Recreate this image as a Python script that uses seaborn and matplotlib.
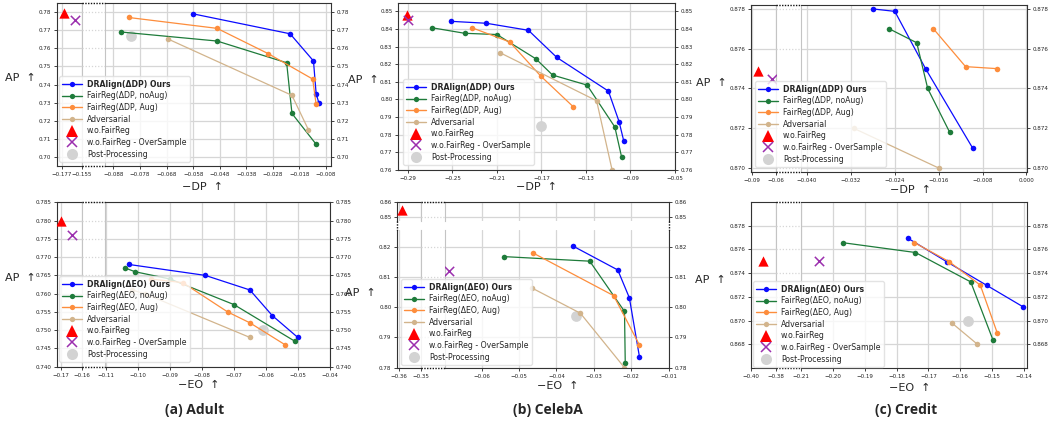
import numpy as np
import matplotlib
matplotlib.use("Agg")
import matplotlib.pyplot as plt
import seaborn as sns
from matplotlib.lines import Line2D
from matplotlib import ticker

# ---------------- data ----------------
# (a) Adult, -DP
adult_dp_ours_x = [-0.058, -0.0215, -0.0127, -0.0117, -0.0107]
adult_dp_ours_y = [0.779, 0.768, 0.753, 0.735, 0.730]
adult_dp_noaug_x = [-0.0853, -0.049, -0.0228, -0.0208, -0.0117]
adult_dp_noaug_y = [0.769, 0.764, 0.752, 0.724, 0.707]
adult_dp_aug_x = [-0.0823, -0.049, -0.0297, -0.013, -0.0117]
adult_dp_aug_y = [0.777, 0.771, 0.757, 0.743, 0.729]
adult_dp_adv_x = [-0.0673, -0.0208, -0.0146]
adult_dp_adv_y = [0.765, 0.734, 0.715]
adult_dp_wo = (-0.1744, 0.7797)
adult_dp_over = (-0.1623, 0.7758)
adult_dp_post = (-0.0813, 0.7668)

# (a) Adult, -EO
adult_eo_ours_x = [-0.103, -0.079, -0.065, -0.058, -0.050]
adult_eo_ours_y = [0.768, 0.765, 0.761, 0.754, 0.748]
adult_eo_noaug_x = [-0.104, -0.101, -0.090, -0.070, -0.051]
adult_eo_noaug_y = [0.767, 0.766, 0.764, 0.757, 0.747]
adult_eo_aug_x = [-0.096, -0.086, -0.072, -0.065, -0.054]
adult_eo_aug_y = [0.764, 0.763, 0.755, 0.752, 0.746]
adult_eo_adv_x = [-0.102, -0.098, -0.065]
adult_eo_adv_y = [0.761, 0.760, 0.748]
adult_eo_wo = (-0.170, 0.780)
adult_eo_over = (-0.165, 0.776)
adult_eo_post = (-0.061, 0.750)

# (b) CelebA, -DP
celeba_dp_ours_x = [-0.2515, -0.2196, -0.1817, -0.1562, -0.1098, -0.1002, -0.096]
celeba_dp_ours_y = [0.8443, 0.8432, 0.8392, 0.8238, 0.8047, 0.7874, 0.7764]
celeba_dp_noaug_x = [-0.268, -0.239, -0.210, -0.175, -0.160, -0.129, -0.104, -0.098]
celeba_dp_noaug_y = [0.8406, 0.8375, 0.8368, 0.823, 0.8138, 0.8081, 0.7843, 0.7675]
celeba_dp_aug_x = [-0.2323, -0.1986, -0.1706, -0.1414]
celeba_dp_aug_y = [0.8406, 0.8326, 0.8132, 0.7958]
celeba_dp_adv_x = [-0.207, -0.1204, -0.1065]
celeba_dp_adv_y = [0.8264, 0.7992, 0.760]
celeba_dp_wo = (-0.291, 0.8477)
celeba_dp_over = (-0.2897, 0.8449)
celeba_dp_post = (-0.170, 0.785)

# (b) CelebA, -EO
celeba_eo_ours_x = [-0.0356, -0.0236, -0.0205, -0.0178]
celeba_eo_ours_y = [0.8202, 0.8123, 0.8031, 0.7836]
celeba_eo_noaug_x = [-0.0539, -0.0311, -0.0218, -0.0216]
celeba_eo_noaug_y = [0.8167, 0.8152, 0.7986, 0.7816]
celeba_eo_aug_x = [-0.0464, -0.0247, -0.0178]
celeba_eo_aug_y = [0.818, 0.8038, 0.7875]
celeba_eo_adv_x = [-0.0465, -0.0336, -0.0218]
celeba_eo_adv_y = [0.8063, 0.798, 0.780]
celeba_eo_wo = (-0.3585, 0.8544)
celeba_eo_over = (-0.0686, 0.812)
celeba_eo_post = (-0.0349, 0.797)

# (c) Credit, -DP
credit_dp_ours_x = [-0.0279, -0.0240, -0.0184, -0.0098]
credit_dp_ours_y = [0.8780, 0.87788, 0.8750, 0.8710]
credit_dp_noaug_x = [-0.025, -0.020, -0.018, -0.014]
credit_dp_noaug_y = [0.8770, 0.8763, 0.8740, 0.8718]
credit_dp_aug_x = [-0.01695, -0.0111, -0.0054]
credit_dp_aug_y = [0.8770, 0.8751, 0.8750]
credit_dp_adv_x = [-0.0315, -0.016]
credit_dp_adv_y = [0.8720, 0.8700]
credit_dp_wo = (-0.0822, 0.8749)
credit_dp_over = (-0.0648, 0.8745)
credit_dp_post = (-0.0401, 0.8720)

# (c) Credit, -EO
credit_eo_ours_x = [-0.1765, -0.1643, -0.1516, -0.1403]
credit_eo_ours_y = [0.87695, 0.87497, 0.87296, 0.87117]
credit_eo_noaug_x = [-0.197, -0.1741, -0.1567, -0.1497]
credit_eo_noaug_y = [0.87657, 0.87574, 0.87326, 0.86836]
credit_eo_aug_x = [-0.1744, -0.1635, -0.1537, -0.1484]
credit_eo_aug_y = [0.87657, 0.87497, 0.87299, 0.86899]
credit_eo_adv_x = [-0.1626, -0.1546]
credit_eo_adv_y = [0.86979, 0.868]
credit_eo_wo = (-0.3901, 0.875)
credit_eo_over = (-0.2045, 0.875)
credit_eo_post = (-0.1575, 0.870)

dp_labels = ["DRAlign(ΔDP) Ours", "FairReg(ΔDP, noAug)", "FairReg(ΔDP, Aug)", "Adversarial",
             "w.o.FairReg", "w.o.FairReg - OverSample", "Post-Processing"]
eo_labels = ["DRAlign(ΔEO) Ours", "FairReg(ΔEO, noAug)", "FairReg(ΔEO, Aug)", "Adversarial",
             "w.o.FairReg", "w.o.FairReg - OverSample", "Post-Processing"]
titles = ["(a) Adult", "(b) CelebA", "(c) Credit"]

# ---------------- style ----------------
BLUE, GREEN, ORANGE, TAN = "#0b0bff", "#1e7b3a", "#fd8d3c", "#d2b48c"
RED, PURPLE, GRAY = "#ff0000", "#9b2fae", "#d3d3d3"
GRID, GAPC = "#d6d6d6", "#c4c4c4"

sns.set_style("white")
plt.rcParams["font.family"] = ["DejaVu Sans"]
plt.rcParams.update({
    "xtick.labelsize": 4.0, "ytick.labelsize": 4.1,
    "xtick.major.size": 2.5, "ytick.major.size": 2.5,
    "xtick.major.width": 0.6, "ytick.major.width": 0.6,
    "xtick.major.pad": 1.5, "ytick.major.pad": 1.5,
    "xtick.color": "#222222", "ytick.color": "#222222",
})

W, H = 1052, 423
fig = plt.figure(figsize=(W / 100, H / 100), dpi=100)


def rect(x0, x1, y0, y1):
    return [x0 / W, 1 - y1 / H, (x1 - x0) / W, (y1 - y0) / H]


def fmt(dec):
    def f(v, p):
        if abs(v) < 1e-12:
            v = 0.0
        return f"{v:.{dec}f}".replace("-", "\u2212")
    return ticker.FuncFormatter(f)


def rng(a, b, step):
    n = int(round((b - a) / step))
    return [round(a + i * step, 4) + 0.0 for i in range(n + 1)]


def draw(ax, d):
    for xs, ys, c in [(d["ours"][0], d["ours"][1], BLUE), (d["noaug"][0], d["noaug"][1], GREEN),
                      (d["aug"][0], d["aug"][1], ORANGE), (d["adv"][0], d["adv"][1], TAN)]:
        sns.lineplot(x=xs, y=ys, ax=ax, sort=False, estimator=None, color=c, marker="o",
                     markersize=4.0, markeredgecolor=c, markeredgewidth=0, linewidth=0.9,
                     legend=False, zorder=2)
    sns.scatterplot(x=[d["post"][0]], y=[d["post"][1]], ax=ax, marker="o", s=60, color=GRAY,
                    linewidth=0, legend=False, zorder=1.5)
    sns.scatterplot(x=[d["wo"][0]], y=[d["wo"][1]], ax=ax, marker="^", s=55, color=RED,
                    linewidth=0, legend=False, zorder=3)
    sns.scatterplot(x=[d["over"][0]], y=[d["over"][1]], ax=ax, marker="x", s=45, color=PURPLE,
                    linewidth=1.1, legend=False, zorder=3)


def dotted(xs, ys):
    fig.add_artist(Line2D([x / W for x in xs], [1 - y / H for y in ys], transform=fig.transFigure,
                          color="#111111", lw=1.0, ls=(0, (1, 1))))


def panel(cols, rows, d):
    for ri, (t, b, ylim, yt, ydec) in enumerate(rows):
        for ci, (l, r, xlim, xt, xdec) in enumerate(cols):
            ax = fig.add_axes(rect(l, r, t, b))
            draw(ax, d)
            ax.set_xlim(xlim)
            ax.set_ylim(ylim)
            ax.set_xticks(xt)
            ax.set_yticks(yt)
            ax.xaxis.set_major_formatter(fmt(xdec))
            ax.yaxis.set_major_formatter(fmt(ydec))
            ax.grid(True, color=GRID, lw=0.9)
            ax.set_axisbelow(True)
            ax.set_xlabel("")
            ax.set_ylabel("")
            fc, lc = ci == 0, ci == len(cols) - 1
            fr, lr = ri == 0, ri == len(rows) - 1
            ax.tick_params(axis="x", bottom=lr, labelbottom=lr, top=False)
            ax.tick_params(axis="y", left=fc, labelleft=fc, right=lc, labelright=lc)
            for s in ax.spines.values():
                s.set_color("#333333")
                s.set_linewidth(0.8)
            if not fc:
                ax.spines["left"].set_color(GAPC)
            if not lc:
                ax.spines["right"].set_color(GAPC)
            if not fr:
                ax.spines["top"].set_visible(False)
            if not lr:
                ax.spines["bottom"].set_visible(False)
    # x-gaps
    for ci in range(len(cols) - 1):
        xa, xb = cols[ci][1], cols[ci + 1][0]
        for (t, b, ylim, yt, ydec) in rows:
            g = fig.add_axes(rect(xa, xb, t, b))
            g.axis("off")
            g.set_xlim(0, 1)
            g.set_ylim(ylim)
            g.hlines(yt, 0, 1, colors=GRID, linestyles=(0, (1, 1.5)), lw=0.9)
        dotted([xa, xb], [rows[0][0], rows[0][0]])
        dotted([xa, xb], [rows[-1][1], rows[-1][1]])
    # y-gaps
    for ri in range(len(rows) - 1):
        ya, yb = rows[ri][1], rows[ri + 1][0]
        dotted([cols[0][0], cols[0][0]], [ya, yb])
        dotted([cols[-1][1], cols[-1][1]], [ya, yb])


def pack(ox, oy, nx, ny, ax_, ay, dx, dy, wo, over, post):
    return {"ours": (ox, oy), "noaug": (nx, ny), "aug": (ax_, ay), "adv": (dx, dy),
            "wo": wo, "over": over, "post": post}


A_DP = pack(adult_dp_ours_x, adult_dp_ours_y, adult_dp_noaug_x, adult_dp_noaug_y, adult_dp_aug_x,
            adult_dp_aug_y, adult_dp_adv_x, adult_dp_adv_y, adult_dp_wo, adult_dp_over, adult_dp_post)
A_EO = pack(adult_eo_ours_x, adult_eo_ours_y, adult_eo_noaug_x, adult_eo_noaug_y, adult_eo_aug_x,
            adult_eo_aug_y, adult_eo_adv_x, adult_eo_adv_y, adult_eo_wo, adult_eo_over, adult_eo_post)
B_DP = pack(celeba_dp_ours_x, celeba_dp_ours_y, celeba_dp_noaug_x, celeba_dp_noaug_y, celeba_dp_aug_x,
            celeba_dp_aug_y, celeba_dp_adv_x, celeba_dp_adv_y, celeba_dp_wo, celeba_dp_over, celeba_dp_post)
B_EO = pack(celeba_eo_ours_x, celeba_eo_ours_y, celeba_eo_noaug_x, celeba_eo_noaug_y, celeba_eo_aug_x,
            celeba_eo_aug_y, celeba_eo_adv_x, celeba_eo_adv_y, celeba_eo_wo, celeba_eo_over, celeba_eo_post)
C_DP = pack(credit_dp_ours_x, credit_dp_ours_y, credit_dp_noaug_x, credit_dp_noaug_y, credit_dp_aug_x,
            credit_dp_aug_y, credit_dp_adv_x, credit_dp_adv_y, credit_dp_wo, credit_dp_over, credit_dp_post)
C_EO = pack(credit_eo_ours_x, credit_eo_ours_y, credit_eo_noaug_x, credit_eo_noaug_y, credit_eo_aug_x,
            credit_eo_aug_y, credit_eo_adv_x, credit_eo_adv_y, credit_eo_wo, credit_eo_over, credit_eo_post)

# (a) Adult
panel([(57, 82, (-0.1825, -0.1549), [-0.177, -0.155], 3),
       (105, 331, (-0.0912, -0.0061), rng(-0.088, -0.008, 0.01), 3)],
      [(3, 166, (0.695, 0.785), rng(0.70, 0.78, 0.01), 2)], A_DP)
panel([(57, 82, (-0.1721, -0.1599), [-0.17, -0.16], 2),
       (105, 330, (-0.1104, -0.0399), rng(-0.11, -0.04, 0.01), 2)],
      [(202, 367, (0.7399, 0.7851), rng(0.74, 0.785, 0.005), 3)], A_EO)
# (b) CelebA
panel([(398, 675, (-0.299, -0.0499), rng(-0.29, -0.05, 0.04), 2)],
      [(3, 170, (0.7599, 0.8547), rng(0.76, 0.85, 0.01), 2)], B_DP)
panel([(397, 421, (-0.361, -0.3499), [-0.36, -0.35], 2),
       (445, 669, (-0.0698, -0.0099), rng(-0.06, -0.01, 0.01), 2)],
      [(202, 221, (0.8473, 0.8601), [0.85, 0.86], 2),
       (230, 368, (0.7799, 0.8255), rng(0.78, 0.82, 0.01), 2)], B_EO)
# (c) Credit
panel([(751, 776, (-0.0915, -0.0599), [-0.09, -0.06], 2),
       (801, 1027, (-0.0411, 0.0001), rng(-0.040, 0.0, 0.008), 3)],
      [(5, 172, (0.8698, 0.8782), rng(0.870, 0.878, 0.002), 3)], C_DP)
panel([(751, 776, (-0.4001, -0.3799), [-0.40, -0.38], 2),
       (801, 1027, (-0.2101, -0.139), rng(-0.21, -0.14, 0.01), 2)],
      [(202, 368, (0.866, 0.880), rng(0.868, 0.878, 0.002), 3)], C_EO)


# ---------------- legends ----------------
def handles():
    h = []
    for c in (BLUE, GREEN, ORANGE, TAN):
        h.append(Line2D([], [], color=c, marker="o", markersize=3.8, markeredgewidth=0, lw=1.0))
    h.append(Line2D([], [], ls="none", marker="^", color=RED, markersize=8, markeredgewidth=0))
    h.append(Line2D([], [], ls="none", marker="x", color=PURPLE, markersize=7, markeredgewidth=1.1))
    h.append(Line2D([], [], ls="none", marker="o", color=GRAY, markersize=8, markeredgewidth=0))
    return h


for (x, y, labs) in [(59, 162, dp_labels), (59, 362, eo_labels), (403, 165, dp_labels),
                     (401, 365, eo_labels), (755, 167, dp_labels), (753, 367, eo_labels)]:
    lg = fig.legend(handles(), labs, loc="lower left", bbox_to_anchor=(x / W, 1 - y / H),
                    fontsize=5.6, labelspacing=0.35, handlelength=2.6, handletextpad=0.6,
                    borderpad=0.4, borderaxespad=0.0, framealpha=0.8, edgecolor="#dddddd",
                    fancybox=True)
    lg.get_texts()[0].set_fontweight("bold")

# ---------------- axis labels and titles ----------------
for (x, y) in [(20, 78), (20, 278), (363, 80), (360, 293), (711, 83), (710, 280)]:
    fig.text(x / W, 1 - y / H, "AP  \u2191", fontsize=8, ha="center", va="center")
for (x, y, s) in [(202, 187, "\u2212DP  \u2191"), (199, 385, "\u2212EO  \u2191"),
                  (537, 187, "\u2212DP  \u2191"), (558, 386, "\u2212EO  \u2191"),
                  (910, 190, "\u2212DP  \u2191"), (910, 388, "\u2212EO  \u2191")]:
    fig.text(x / W, 1 - y / H, s, fontsize=8, ha="center", va="center")
for (x, s) in zip([195, 548, 906], titles):
    fig.text(x / W, 1 - 410 / H, s, fontsize=10, fontweight="bold", family=["Open Sans", "DejaVu Sans"],
             ha="center", va="center")

fig.savefig("out.png", dpi=100)
